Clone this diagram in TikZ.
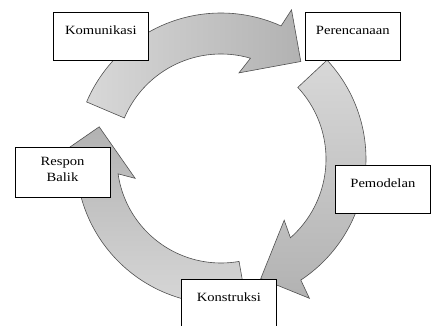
\documentclass[tikz,border=0pt]{standalone}
\usepackage{fontspec}
\setmainfont{Liberation Serif}[FakeStretch=1.16]
\definecolor{arrowedge}{RGB}{80,80,80}
\definecolor{arrowlight}{RGB}{216,216,216}
\definecolor{arrowdark}{RGB}{178,178,178}
\tikzset{
  arrowbody/.style={draw=arrowedge, line width=0.6pt, line join=miter},
  stagebox/.style={draw=black, fill=white, line width=0.7pt, anchor=north west,
    minimum width=95pt, minimum height=48pt, inner sep=0pt,
    text height=22.5pt, text depth=25.5pt,
    font=\fontsize{12.6pt}{16.6pt}\selectfont},
  stagetext/.style={align=center, inner sep=0pt,
    font=\fontsize{12.6pt}{16.6pt}\selectfont}
}
% curved arrow round the centre c: #1 tail angle, #2 tip angle,
% #3 outer radius, #4 inner radius, #5 fill options
\newcommand\cyclearrow[5]{%
  \path[arrowbody,#5]
    ([shift={(c)}]#1:#4) -- ([shift={(c)}]#1:#3)
    arc[start angle=#1, end angle=#2+15, radius=#3]
    -- ([shift={(c)}]#2+14:165) -- ([shift={(c)}]#2:126)
    -- ([shift={(c)}]#2+27.5:88) -- ([shift={(c)}]#2+23:#4)
    arc[start angle=#2+23, end angle=#1, radius=#4] -- cycle;}
\begin{document}
\begin{tikzpicture}[x=1pt,y=1pt]
\useasboundingbox (0,0) rectangle (431,-326);
\coordinate (c) at (221,-159);

% the three cycle arrows
\cyclearrow{157}{50.7}{146}{105}{left color=arrowlight, right color=arrowdark}
\cyclearrow{43}{-71.6}{145}{105}{top color=arrowlight, bottom color=arrowdark}
\cyclearrow{280}{165.2}{145}{104}{bottom color=arrowlight, top color=arrowdark}

% stage boxes
\node[stagebox] (komunikasi) at (53,-12) {Komunikasi};
\node[stagebox] (perencanaan) at (305,-12) {Perencanaan};
\node[stagebox] (pemodelan) at (335,-165) {Pemodelan};
\node[stagebox] (konstruksi) at (181,-279) {Konstruksi};
\node[stagebox, minimum height=50pt, text height=0pt, text depth=0pt] (respon) at (15,-147) {};
\node[stagetext, anchor=north] (respontext) at (62.5,-156.6) {Respon\\Balik};
\end{tikzpicture}
\end{document}
